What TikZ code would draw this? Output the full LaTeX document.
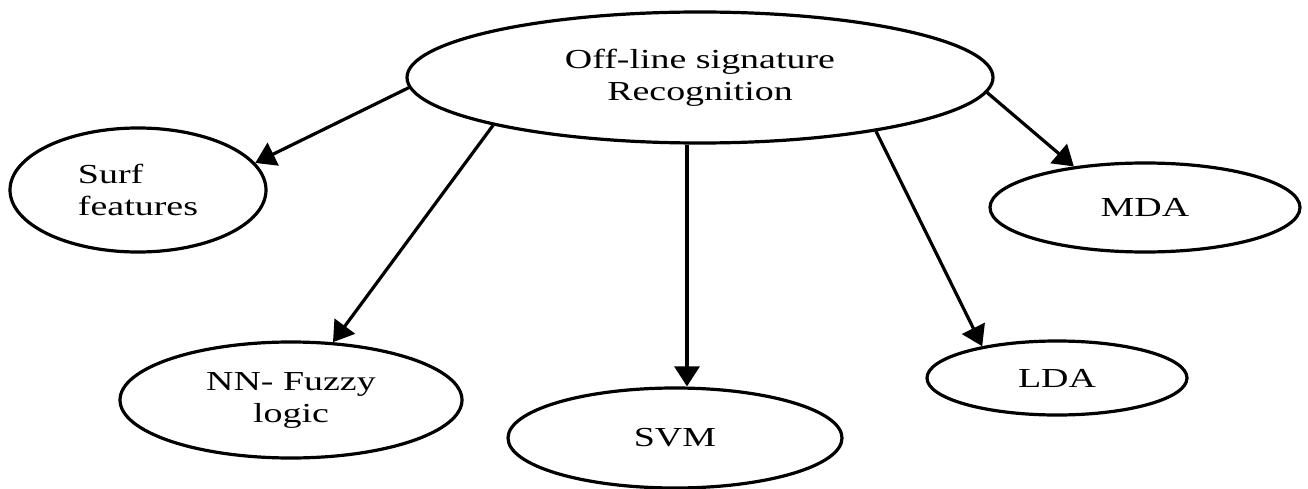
\documentclass[tikz,border=0pt]{standalone}
\usepackage{fontspec}
\setmainfont{Liberation Serif}[FakeStretch=1.38]
\usetikzlibrary{shapes.geometric,arrows.meta}
\begin{document}
\begin{tikzpicture}[x=1pt,y=-1pt,
  oval/.style={draw,ellipse,line width=3.2pt,inner sep=0pt,
    font=\fontsize{27.5}{32}\selectfont},
  arr/.style={line width=3.2pt,-{Triangle[length=20pt,width=25pt]}}]
\useasboundingbox (0,0) rectangle (1308,489);
\node[oval,minimum width=586pt,minimum height=131pt,align=center] (top) at (700,77.5) {Off-line signature\\Recognition};
\node[oval,minimum width=256pt,minimum height=124pt,align=left] (surf) at (138,190) {Surf\\features};
\node[oval,minimum width=342pt,minimum height=116pt,align=center] (nn) at (291,400) {NN- Fuzzy\\logic};
\node[oval,minimum width=334pt,minimum height=100pt] (svm) at (675,438) {SVM};
\node[oval,minimum width=260pt,minimum height=74pt] (lda) at (1057,378) {LDA};
\node[oval,minimum width=310pt,minimum height=89pt] (mda) at (1145,207.5) {MDA};
\draw[arr] (top.182.8) -- (surf.13.8);
\draw[arr] (top.193.5) -- (nn.54.6);
\draw[arr] (top.259.6) -- (top.259.6 |- svm.north);
\draw[arr] (top.343.6) -- (lda.157.6);
\draw[arr] (top.357) -- (mda.150.9);
\end{tikzpicture}
\end{document}
